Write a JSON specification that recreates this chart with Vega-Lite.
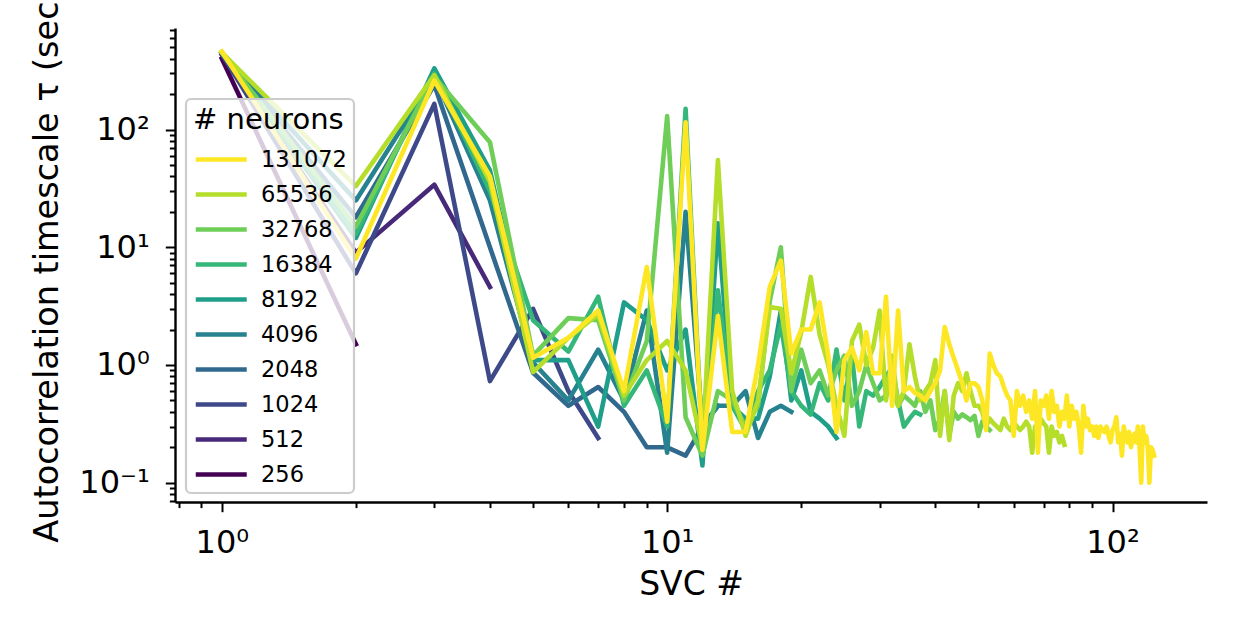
{
 "$schema": "https://vega.github.io/schema/vega-lite/v6.json",
 "autosize": {"type": "none"},
 "width": 1032, "height": 474,
 "padding": {"left": 175, "top": 28, "right": 27, "bottom": 132},
 "background": "white",
 "config": {"view": {"stroke": null}, "font": "DejaVu Sans"},
 "data": {"values": [
{"n":"256","x":1,"y":400},{"n":"256","x":2,"y":1.5},
{"n":"512","x":1,"y":430},{"n":"512","x":2,"y":9},{"n":"512","x":3,"y":34},{"n":"512","x":4,"y":4.6},
{"n":"1024","x":1,"y":440},{"n":"1024","x":2,"y":6},{"n":"1024","x":3,"y":165},{"n":"1024","x":4,"y":0.73},{"n":"1024","x":5,"y":3.0},{"n":"1024","x":6,"y":0.6},{"n":"1024","x":7,"y":0.24},
{"n":"2048","x":1,"y":450},{"n":"2048","x":2,"y":18},{"n":"2048","x":3,"y":240},{"n":"2048","x":4,"y":10},{"n":"2048","x":5,"y":0.86},{"n":"2048","x":6,"y":0.45},{"n":"2048","x":7,"y":0.65},{"n":"2048","x":8,"y":0.4},{"n":"2048","x":9,"y":0.2},{"n":"2048","x":10,"y":0.2},{"n":"2048","x":11,"y":0.17},{"n":"2048","x":12,"y":0.3},{"n":"2048","x":13,"y":0.45},
{"n":"4096","x":1,"y":450},{"n":"4096","x":2,"y":25},{"n":"4096","x":3,"y":280},{"n":"4096","x":4,"y":25},{"n":"4096","x":5,"y":1.05},{"n":"4096","x":6,"y":0.5},{"n":"4096","x":7,"y":1.35},{"n":"4096","x":8,"y":0.5},{"n":"4096","x":9,"y":2.9},{"n":"4096","x":10,"y":0.18},{"n":"4096","x":11,"y":20},{"n":"4096","x":12,"y":0.3},{"n":"4096","x":13,"y":0.45},{"n":"4096","x":14,"y":0.45},{"n":"4096","x":15,"y":0.6},{"n":"4096","x":16,"y":0.24},{"n":"4096","x":17,"y":0.4},{"n":"4096","x":18,"y":0.45},{"n":"4096","x":19,"y":0.4},
{"n":"8192","x":1,"y":450},{"n":"8192","x":2,"y":12},{"n":"8192","x":3,"y":330},{"n":"8192","x":4,"y":45},{"n":"8192","x":5,"y":1.1},{"n":"8192","x":6,"y":1.1},{"n":"8192","x":7,"y":0.3},{"n":"8192","x":8,"y":3.4},{"n":"8192","x":9,"y":2.4},{"n":"8192","x":10,"y":0.9},{"n":"8192","x":11,"y":2.0},{"n":"8192","x":12,"y":0.14},{"n":"8192","x":13,"y":16},{"n":"8192","x":14,"y":0.45},{"n":"8192","x":15,"y":0.35},{"n":"8192","x":16,"y":0.35},{"n":"8192","x":17,"y":0.8},{"n":"8192","x":18,"y":2.9},{"n":"8192","x":19,"y":0.5},{"n":"8192","x":20,"y":0.9},{"n":"8192","x":21,"y":0.4},{"n":"8192","x":22,"y":0.35},{"n":"8192","x":23,"y":0.3},{"n":"8192","x":24,"y":0.24},
{"n":"16384","x":1,"y":450},{"n":"16384","x":2,"y":13},{"n":"16384","x":3,"y":300},{"n":"16384","x":4,"y":30},{"n":"16384","x":5,"y":2.4},{"n":"16384","x":6,"y":1.3},{"n":"16384","x":7,"y":3.8},{"n":"16384","x":8,"y":0.45},{"n":"16384","x":9,"y":0.9},{"n":"16384","x":10,"y":0.3},{"n":"16384","x":11,"y":150},{"n":"16384","x":12,"y":0.2},{"n":"16384","x":13,"y":4.3},{"n":"16384","x":14,"y":0.45},{"n":"16384","x":15,"y":0.28},{"n":"16384","x":16,"y":0.6},{"n":"16384","x":17,"y":0.9},{"n":"16384","x":18,"y":2.2},{"n":"16384","x":19,"y":0.6},{"n":"16384","x":20,"y":0.45},{"n":"16384","x":21,"y":0.38},{"n":"16384","x":22,"y":0.7},{"n":"16384","x":23,"y":0.5},{"n":"16384","x":24,"y":1.35},{"n":"16384","x":25,"y":0.5},{"n":"16384","x":26,"y":1.2},{"n":"16384","x":27,"y":0.3},{"n":"16384","x":28,"y":0.6},{"n":"16384","x":29,"y":0.55},{"n":"16384","x":30,"y":0.65},{"n":"16384","x":31,"y":0.8},{"n":"16384","x":32,"y":0.95},{"n":"16384","x":33,"y":0.5},{"n":"16384","x":34,"y":0.3},{"n":"16384","x":35,"y":0.35},{"n":"16384","x":36,"y":0.4},{"n":"16384","x":37,"y":0.38},
{"n":"32768","x":1,"y":450},{"n":"32768","x":2,"y":15},{"n":"32768","x":3,"y":280},{"n":"32768","x":4,"y":78},{"n":"32768","x":5,"y":1.2},{"n":"32768","x":6,"y":2.5},{"n":"32768","x":7,"y":2.4},{"n":"32768","x":8,"y":0.5},{"n":"32768","x":9,"y":1.6},{"n":"32768","x":10,"y":130},{"n":"32768","x":11,"y":0.36},{"n":"32768","x":12,"y":0.17},{"n":"32768","x":13,"y":0.6},{"n":"32768","x":14,"y":0.5},{"n":"32768","x":15,"y":0.3},{"n":"32768","x":16,"y":0.45},{"n":"32768","x":17,"y":3.5},{"n":"32768","x":18,"y":10},{"n":"32768","x":19,"y":0.6},{"n":"32768","x":20,"y":1.35},{"n":"32768","x":21,"y":0.7},{"n":"32768","x":22,"y":0.9},{"n":"32768","x":23,"y":0.55},{"n":"32768","x":24,"y":0.9},{"n":"32768","x":25,"y":1.2},{"n":"32768","x":26,"y":0.45},{"n":"32768","x":27,"y":0.6},{"n":"32768","x":28,"y":1.0},{"n":"32768","x":29,"y":0.7},{"n":"32768","x":30,"y":0.5},{"n":"32768","x":31,"y":0.55},{"n":"32768","x":32,"y":0.7},{"n":"32768","x":33,"y":0.45},{"n":"32768","x":34,"y":0.55},{"n":"32768","x":35,"y":0.5},{"n":"32768","x":36,"y":0.45},{"n":"32768","x":37,"y":0.6},{"n":"32768","x":38,"y":0.4},{"n":"32768","x":39,"y":0.5},{"n":"32768","x":40,"y":0.28},{"n":"32768","x":41,"y":0.35},{"n":"32768","x":42,"y":0.6},{"n":"32768","x":43,"y":0.25},{"n":"32768","x":44,"y":0.4},{"n":"32768","x":45,"y":0.35},{"n":"32768","x":46,"y":0.38},{"n":"32768","x":47,"y":0.36},{"n":"32768","x":48,"y":0.34},{"n":"32768","x":49,"y":0.37},{"n":"32768","x":50,"y":0.25},{"n":"32768","x":51,"y":0.33},{"n":"32768","x":52,"y":0.3},{"n":"32768","x":53,"y":0.28},
{"n":"65536","x":1,"y":450},{"n":"65536","x":2,"y":33},{"n":"65536","x":3,"y":290},{"n":"65536","x":4,"y":36},{"n":"65536","x":5,"y":0.87},{"n":"65536","x":6,"y":1.7},{"n":"65536","x":7,"y":2.7},{"n":"65536","x":8,"y":0.55},{"n":"65536","x":9,"y":1.1},{"n":"65536","x":10,"y":1.6},{"n":"65536","x":11,"y":0.9},{"n":"65536","x":12,"y":0.2},{"n":"65536","x":13,"y":55},{"n":"65536","x":14,"y":0.6},{"n":"65536","x":15,"y":0.25},{"n":"65536","x":16,"y":0.5},{"n":"65536","x":17,"y":3.1},{"n":"65536","x":18,"y":3.0},{"n":"65536","x":19,"y":0.85},{"n":"65536","x":20,"y":1.9},{"n":"65536","x":21,"y":5.6},{"n":"65536","x":22,"y":1.8},{"n":"65536","x":23,"y":1.0},{"n":"65536","x":24,"y":0.45},{"n":"65536","x":25,"y":0.25},{"n":"65536","x":26,"y":1.6},{"n":"65536","x":27,"y":2.2},{"n":"65536","x":28,"y":1.0},{"n":"65536","x":29,"y":1.4},{"n":"65536","x":30,"y":2.9},{"n":"65536","x":31,"y":0.5},{"n":"65536","x":32,"y":1.2},{"n":"65536","x":33,"y":0.45},{"n":"65536","x":34,"y":0.6},{"n":"65536","x":35,"y":1.5},{"n":"65536","x":36,"y":0.8},{"n":"65536","x":37,"y":0.5},{"n":"65536","x":38,"y":0.6},{"n":"65536","x":39,"y":0.7},{"n":"65536","x":40,"y":1.1},{"n":"65536","x":41,"y":0.25},{"n":"65536","x":42,"y":0.6},{"n":"65536","x":43,"y":0.23},{"n":"65536","x":44,"y":0.55},{"n":"65536","x":45,"y":0.7},{"n":"65536","x":46,"y":0.6},{"n":"65536","x":47,"y":0.85},{"n":"65536","x":48,"y":0.6},{"n":"65536","x":49,"y":0.45},{"n":"65536","x":50,"y":0.45},{"n":"65536","x":51,"y":0.4},{"n":"65536","x":52,"y":0.3},{"n":"65536","x":53,"y":0.35},{"n":"65536","x":54,"y":0.32},{"n":"65536","x":55,"y":0.3},{"n":"65536","x":56,"y":0.28},{"n":"65536","x":57,"y":0.35},{"n":"65536","x":58,"y":0.3},{"n":"65536","x":59,"y":0.28},{"n":"65536","x":60,"y":0.33},{"n":"65536","x":61,"y":0.3},{"n":"65536","x":62,"y":0.28},{"n":"65536","x":63,"y":0.3},{"n":"65536","x":64,"y":0.33},{"n":"65536","x":65,"y":0.3},{"n":"65536","x":66,"y":0.18},{"n":"65536","x":67,"y":0.3},{"n":"65536","x":68,"y":0.28},{"n":"65536","x":69,"y":0.35},{"n":"65536","x":70,"y":0.32},{"n":"65536","x":71,"y":0.3},{"n":"65536","x":72,"y":0.18},{"n":"65536","x":73,"y":0.3},{"n":"65536","x":74,"y":0.25},{"n":"65536","x":75,"y":0.27},{"n":"65536","x":76,"y":0.22},{"n":"65536","x":77,"y":0.25},{"n":"65536","x":78,"y":0.21},
{"n":"131072","x":1,"y":460},{"n":"131072","x":2,"y":8},{"n":"131072","x":3,"y":260},{"n":"131072","x":4,"y":40},{"n":"131072","x":5,"y":1.15},{"n":"131072","x":6,"y":1.7},{"n":"131072","x":7,"y":2.9},{"n":"131072","x":8,"y":0.6},{"n":"131072","x":9,"y":6.8},{"n":"131072","x":10,"y":0.33},{"n":"131072","x":11,"y":115},{"n":"131072","x":12,"y":0.19},{"n":"131072","x":13,"y":2.6},{"n":"131072","x":14,"y":0.27},{"n":"131072","x":15,"y":0.27},{"n":"131072","x":16,"y":1.0},{"n":"131072","x":17,"y":4.6},{"n":"131072","x":18,"y":7.7},{"n":"131072","x":19,"y":1.25},{"n":"131072","x":20,"y":2.0},{"n":"131072","x":21,"y":2.0},{"n":"131072","x":22,"y":3.4},{"n":"131072","x":23,"y":1.2},{"n":"131072","x":24,"y":0.27},{"n":"131072","x":25,"y":1.1},{"n":"131072","x":26,"y":1.4},{"n":"131072","x":27,"y":0.9},{"n":"131072","x":28,"y":1.9},{"n":"131072","x":29,"y":0.85},{"n":"131072","x":30,"y":0.85},{"n":"131072","x":31,"y":3.8},{"n":"131072","x":32,"y":0.45},{"n":"131072","x":33,"y":2.9},{"n":"131072","x":34,"y":0.6},{"n":"131072","x":35,"y":0.65},{"n":"131072","x":36,"y":0.58},{"n":"131072","x":37,"y":0.55},{"n":"131072","x":38,"y":0.5},{"n":"131072","x":39,"y":0.6},{"n":"131072","x":40,"y":0.7},{"n":"131072","x":41,"y":0.9},{"n":"131072","x":42,"y":2.1},{"n":"131072","x":43,"y":1.5},{"n":"131072","x":44,"y":1.15},{"n":"131072","x":45,"y":0.9},{"n":"131072","x":46,"y":0.7},{"n":"131072","x":47,"y":0.5},{"n":"131072","x":48,"y":0.7},{"n":"131072","x":49,"y":0.7},{"n":"131072","x":50,"y":0.65},{"n":"131072","x":51,"y":0.5},{"n":"131072","x":52,"y":0.28},{"n":"131072","x":53,"y":1.25},{"n":"131072","x":54,"y":1.0},{"n":"131072","x":55,"y":0.85},{"n":"131072","x":56,"y":0.8},{"n":"131072","x":57,"y":0.65},{"n":"131072","x":58,"y":0.55},{"n":"131072","x":59,"y":0.5},{"n":"131072","x":60,"y":0.25},{"n":"131072","x":61,"y":0.6},{"n":"131072","x":62,"y":0.45},{"n":"131072","x":63,"y":0.55},{"n":"131072","x":64,"y":0.4},{"n":"131072","x":65,"y":0.5},{"n":"131072","x":66,"y":0.35},{"n":"131072","x":67,"y":0.6},{"n":"131072","x":68,"y":0.18},{"n":"131072","x":69,"y":0.5},{"n":"131072","x":70,"y":0.45},{"n":"131072","x":71,"y":0.55},{"n":"131072","x":72,"y":0.35},{"n":"131072","x":73,"y":0.6},{"n":"131072","x":74,"y":0.4},{"n":"131072","x":75,"y":0.45},{"n":"131072","x":76,"y":0.3},{"n":"131072","x":77,"y":0.4},{"n":"131072","x":78,"y":0.35},{"n":"131072","x":79,"y":0.55},{"n":"131072","x":80,"y":0.3},{"n":"131072","x":81,"y":0.45},{"n":"131072","x":82,"y":0.35},{"n":"131072","x":83,"y":0.4},{"n":"131072","x":84,"y":0.3},{"n":"131072","x":85,"y":0.18},{"n":"131072","x":86,"y":0.45},{"n":"131072","x":87,"y":0.3},{"n":"131072","x":88,"y":0.35},{"n":"131072","x":89,"y":0.28},{"n":"131072","x":90,"y":0.3},{"n":"131072","x":91,"y":0.25},{"n":"131072","x":92,"y":0.3},{"n":"131072","x":93,"y":0.24},{"n":"131072","x":94,"y":0.3},{"n":"131072","x":95,"y":0.28},{"n":"131072","x":96,"y":0.27},{"n":"131072","x":97,"y":0.3},{"n":"131072","x":98,"y":0.25},{"n":"131072","x":99,"y":0.22},{"n":"131072","x":100,"y":0.28},{"n":"131072","x":101,"y":0.3},{"n":"131072","x":102,"y":0.36},{"n":"131072","x":103,"y":0.22},{"n":"131072","x":104,"y":0.26},{"n":"131072","x":105,"y":0.17},{"n":"131072","x":106,"y":0.3},{"n":"131072","x":107,"y":0.25},{"n":"131072","x":108,"y":0.22},{"n":"131072","x":109,"y":0.27},{"n":"131072","x":110,"y":0.2},{"n":"131072","x":111,"y":0.24},{"n":"131072","x":112,"y":0.26},{"n":"131072","x":113,"y":0.22},{"n":"131072","x":114,"y":0.3},{"n":"131072","x":115,"y":0.2},{"n":"131072","x":116,"y":0.1},{"n":"131072","x":117,"y":0.3},{"n":"131072","x":118,"y":0.22},{"n":"131072","x":119,"y":0.25},{"n":"131072","x":120,"y":0.2},{"n":"131072","x":121,"y":0.1},{"n":"131072","x":122,"y":0.2},{"n":"131072","x":123,"y":0.19},{"n":"131072","x":124,"y":0.17}
 ]},
 "mark": {"type": "line", "strokeWidth": 4.6, "strokeJoin": "round", "strokeCap": "square"},
 "encoding": {
  "x": {"field": "x", "type": "quantitative",
   "scale": {"type": "log", "domain": [0.785, 163], "nice": false},
   "axis": {"title": "SVC #", "values": [0.8,0.9,1,2,3,4,5,6,7,8,9,10,20,30,40,50,60,70,80,90,100],
    "labelExpr": "datum.value == 1 ? '10⁰' : datum.value == 10 ? '10¹' : datum.value == 100 ? '10²' : ''",
    "tickSize": {"condition": {"test": "abs(log(datum.value)/LN10 - round(log(datum.value)/LN10)) < 0.001", "value": 9.7}, "value": 5.6},
    "tickColor": "black", "tickWidth": 2, "domainColor": "black", "domainWidth": 2.4, "grid": false,
    "labelFont": "DejaVu Sans", "labelFontSize": 32, "labelColor": "black", "labelPadding": 16,
    "labelFlush": false, "labelOverlap": false, "labelBound": false,
    "titleFont": "DejaVu Sans", "titleFontSize": 33, "titleFontWeight": "normal", "titleColor": "black", "titlePadding": 10}},
  "y": {"field": "y", "type": "quantitative",
   "scale": {"type": "log", "domain": [0.0686, 728], "nice": false},
   "axis": {"title": "Autocorrelation timescale τ (sec)",
    "values": [0.07,0.08,0.09,0.1,0.2,0.3,0.4,0.5,0.6,0.7,0.8,0.9,1,2,3,4,5,6,7,8,9,10,20,30,40,50,60,70,80,90,100,200,300,400,500,600,700],
    "labelExpr": "datum.value == 1 ? '10⁰' : datum.value == 10 ? '10¹' : datum.value == 100 ? '10²' : datum.value == 0.1 ? '10⁻¹' : ''",
    "tickSize": {"condition": {"test": "abs(log(datum.value)/LN10 - round(log(datum.value)/LN10)) < 0.001", "value": 9.7}, "value": 5.6},
    "tickColor": "black", "tickWidth": 2, "domainColor": "black", "domainWidth": 2.4, "grid": false,
    "labelFont": "DejaVu Sans", "labelFontSize": 32, "labelColor": "black", "labelPadding": 16,
    "labelFlush": false, "labelOverlap": false, "labelBound": false,
    "titleFont": "DejaVu Sans", "titleFontSize": 33.5, "titleFontWeight": "normal", "titleColor": "black", "titlePadding": 14}},
  "color": {"field": "n", "type": "nominal",
   "scale": {"domain": ["131072","65536","32768","16384","8192","4096","2048","1024","512","256"],
    "range": ["#fde725","#b5de2b","#6ece58","#35b779","#1f9e89","#26828e","#31688e","#3e4989","#482878","#440154"]},
   "legend": {"title": "# neurons", "orient": "none", "legendX": 11, "legendY": 71,
    "titleFont": "DejaVu Sans", "titleFontSize": 29, "titleFontWeight": "normal", "titleColor": "black", "titlePadding": 9,
    "labelFont": "DejaVu Sans", "labelFontSize": 22.5, "labelColor": "black", "labelOffset": 37,
    "symbolType": "M-1,0L3,0", "symbolStrokeWidth": 4.6, "symbolSize": 650, "rowPadding": 8,
    "fillColor": "rgba(255,255,255,0.8)", "strokeColor": "#cccccc", "cornerRadius": 5, "padding": 7,
    "encode": {"legend": {"update": {"strokeWidth": {"value": 2.2}}}}}}
 }
}
